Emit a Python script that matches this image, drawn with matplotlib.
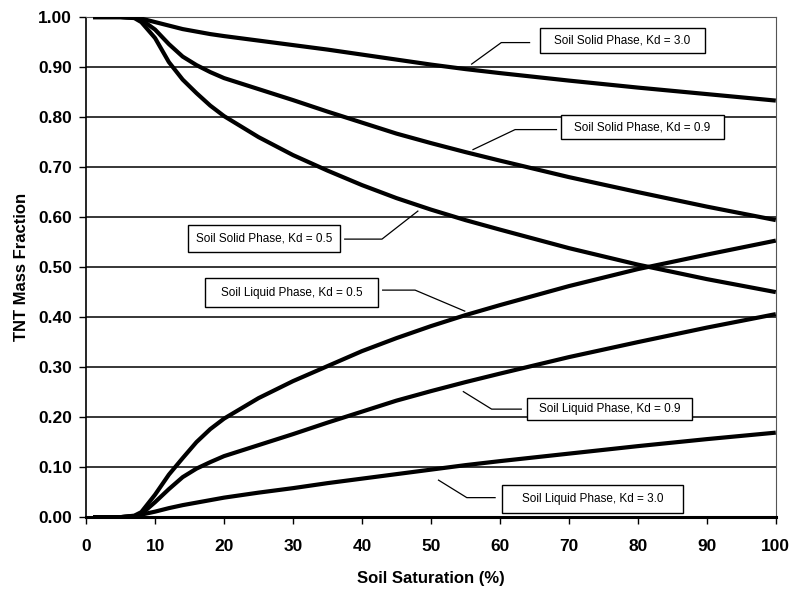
import matplotlib
matplotlib.use('Agg')
import matplotlib.pyplot as plt
from matplotlib.patches import Rectangle

plt.rcParams['font.family'] = ['Liberation Sans', 'DejaVu Sans']

# soil saturation (%)
sat = [1, 5, 7, 8, 10, 12, 14, 16, 18, 20, 25, 30, 35, 40, 45, 50, 55, 60, 70, 80, 90, 100]

solid_30 = [1.0, 1.0, 0.999, 0.997, 0.990, 0.983, 0.976, 0.971, 0.966, 0.962, 0.953, 0.944,
            0.935, 0.925, 0.915, 0.905, 0.896, 0.888, 0.873, 0.859, 0.846, 0.833]
solid_09 = [1.0, 1.0, 0.999, 0.995, 0.975, 0.946, 0.921, 0.904, 0.890, 0.878, 0.856, 0.834,
            0.811, 0.789, 0.767, 0.748, 0.730, 0.713, 0.680, 0.650, 0.621, 0.594]
solid_05 = [1.0, 1.0, 0.998, 0.990, 0.958, 0.910, 0.875, 0.848, 0.823, 0.802, 0.760, 0.724,
            0.693, 0.664, 0.638, 0.615, 0.594, 0.575, 0.538, 0.505, 0.476, 0.450]
liquid_05 = [0.0, 0.0, 0.003, 0.010, 0.045, 0.085, 0.118, 0.150, 0.176, 0.197, 0.238, 0.272,
             0.302, 0.332, 0.358, 0.382, 0.404, 0.424, 0.462, 0.496, 0.525, 0.553]
liquid_09 = [0.0, 0.0, 0.002, 0.006, 0.030, 0.056, 0.080, 0.097, 0.110, 0.122, 0.144, 0.166,
             0.189, 0.211, 0.233, 0.252, 0.270, 0.287, 0.320, 0.350, 0.379, 0.406]
liquid_30 = [0.0, 0.0, 0.002, 0.005, 0.011, 0.018, 0.024, 0.029, 0.034, 0.039, 0.049, 0.058,
             0.068, 0.077, 0.086, 0.095, 0.104, 0.112, 0.127, 0.142, 0.156, 0.169]

series = [solid_30, solid_09, solid_05, liquid_05, liquid_09, liquid_30]

labels = ['Soil Solid Phase, Kd = 3.0', 'Soil Solid Phase, Kd = 0.9',
          'Soil Solid Phase, Kd = 0.5', 'Soil Liquid Phase, Kd = 0.5',
          'Soil Liquid Phase, Kd = 0.9', 'Soil Liquid Phase, Kd = 3.0']

# label box: centre x, centre y, width, height ; leader polyline
boxes = [(77.75, 0.953, 23.9, 0.050, [64.3, 60.2, 55.9], [0.949, 0.949, 0.906]),
         (80.65, 0.780, 23.6, 0.048, [68.2, 62.2, 56.1], [0.775, 0.775, 0.735]),
         (25.8, 0.558, 22.0, 0.054, [37.5, 42.9, 48.1], [0.556, 0.556, 0.612]),
         (29.8, 0.449, 25.1, 0.057, [43.0, 47.7, 54.9], [0.454, 0.454, 0.412]),
         (75.9, 0.216, 23.8, 0.044, [63.1, 58.8, 54.7], [0.216, 0.216, 0.251]),
         (73.4, 0.036, 26.3, 0.057, [59.3, 55.2, 51.1], [0.039, 0.039, 0.074])]

fig = plt.figure(figsize=(7.9, 5.89), dpi=100)
ax = fig.add_axes([0.109, 0.122, 0.873, 0.849])

for y in [0.1 * i for i in range(1, 10)]:
    ax.axhline(y, color='black', lw=1.1, zorder=1)

for s in series:
    ax.plot(sat, s, color='black', lw=3.0, solid_joinstyle='round',
            solid_capstyle='butt', zorder=3)

for (cx, cy, w, h, lx, ly), lab in zip(boxes, labels):
    ax.add_patch(Rectangle((cx - w / 2, cy - h / 2), w, h, facecolor='white',
                           edgecolor='black', lw=1.0, zorder=4))
    ax.text(cx, cy, lab, ha='center', va='center', fontsize=8.5, zorder=5)
    ax.plot(lx, ly, color='black', lw=0.9, zorder=4)

ax.set_xlim(0, 100)
ax.set_ylim(0, 1.0)
ax.set_xticks(range(0, 101, 10))
ax.set_yticks([0.1 * i for i in range(11)])
ax.set_yticklabels(['%.2f' % (0.1 * i) for i in range(11)])

ax.tick_params(axis='both', direction='out', length=5, width=1, color='black',
               labelsize=12.5)
ax.tick_params(axis='x', pad=11)
ax.tick_params(axis='y', pad=5)
for t in ax.get_xticklabels() + ax.get_yticklabels():
    t.set_fontweight('bold')

ax.spines['top'].set_linestyle((0, (1, 1)))
ax.spines['top'].set_color('#555555')
ax.spines['right'].set_linestyle((0, (1, 1)))
ax.spines['right'].set_color('#555555')
ax.spines['left'].set_linestyle((0, (1, 1)))
ax.spines['left'].set_linewidth(1.2)
ax.spines['bottom'].set_linewidth(2.2)

ax.set_xlabel('Soil Saturation (%)', fontsize=12, fontweight='bold', labelpad=12)
ax.set_ylabel('TNT Mass Fraction', fontsize=12, fontweight='bold', labelpad=7)

fig.savefig('out.png', dpi=100)
